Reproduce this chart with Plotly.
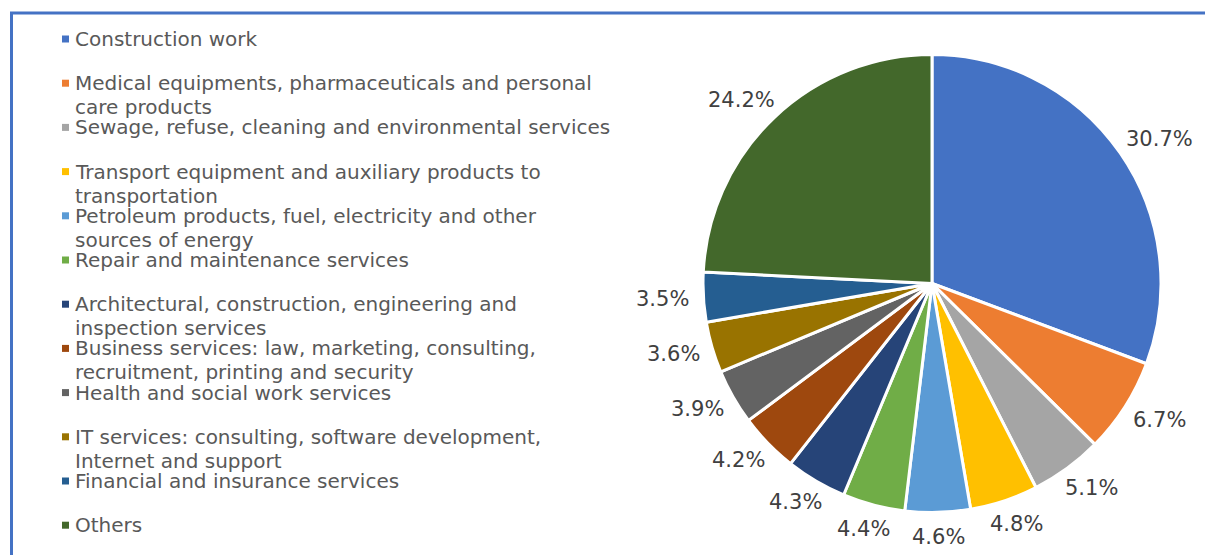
import math
import plotly.graph_objects as go

W, H = 1205, 555

# Categories (legend order = slice order, clockwise from 12 o'clock)
categories = [
    "Construction work",
    "Medical equipments, pharmaceuticals and personal<br>care products",
    "Sewage, refuse, cleaning and environmental services",
    "Transport equipment and auxiliary products to<br>transportation",
    "Petroleum products, fuel, electricity and other<br>sources of energy",
    "Repair and maintenance services",
    "Architectural, construction, engineering and<br>inspection services",
    "Business services: law, marketing, consulting,<br>recruitment, printing and security",
    "Health and social work services",
    "IT services: consulting, software development,<br>Internet and support",
    "Financial and insurance services",
    "Others",
]
shares = [30.7, 6.7, 5.1, 4.8, 4.6, 4.4, 4.3, 4.2, 3.9, 3.6, 3.5, 24.2]
colors = [
    "#4472C4", "#ED7D31", "#A5A5A5", "#FFC000", "#5B9BD5", "#70AD47",
    "#264478", "#9E480E", "#636363", "#997300", "#255E91", "#43682B",
]

FONT = "DejaVu Sans"
LABEL_SIZE = 21

# Pie geometry in pixels
CX, CY, R = 932.0, 283.5, 229.0
LABEL_GAP = 14.0


def px_x(x):
    return x / W


def px_y(y):
    return 1 - y / H


def text_width(s, size):
    # approximate advance widths of DejaVu Sans glyphs (em units)
    em = {".": 0.318, "%": 0.950}
    return sum(em.get(ch, 0.636) for ch in s) * size


fig = go.Figure()

fig.add_trace(go.Pie(
    labels=[c.replace("<br>", " ") for c in categories],
    values=shares,
    sort=False,
    direction="clockwise",
    rotation=0,
    marker=dict(colors=colors, line=dict(color="white", width=3)),
    textinfo="none",
    domain=dict(x=[px_x(CX - R), px_x(CX + R)], y=[px_y(CY + R), px_y(CY - R)]),
    showlegend=False,
    hoverinfo="label+value",
))

annotations = []
shapes = []

# Data labels just beyond the outer edge of each slice, at its mid-angle
total = sum(shares)
cum = 0.0
for v in shares:
    mid = (cum + v / 2) / total * 2 * math.pi
    cum += v
    ux, uy = math.sin(mid), -math.cos(mid)
    txt = f"{v:.1f}%"
    w, h = text_width(txt, LABEL_SIZE), LABEL_SIZE
    lx = CX + (R + LABEL_GAP) * ux + w / 2 * ux
    ly = CY + (R + LABEL_GAP) * uy + h / 2 * uy
    annotations.append(dict(
        x=px_x(lx), y=px_y(ly), xref="paper", yref="paper",
        xanchor="center", yanchor="middle", showarrow=False,
        text=txt, borderpad=0,
        font=dict(family=FONT, size=LABEL_SIZE, color="#404040"),
    ))

# Legend drawn as text rows with square swatches
row_top, row_step, line_step = 39.0, 44.2, 24.0
for i, (name, col) in enumerate(zip(categories, colors)):
    y0 = row_top + row_step * i
    shapes.append(dict(
        type="rect", xref="paper", yref="paper",
        x0=px_x(62), x1=px_x(69), y0=px_y(y0 - 3.5), y1=px_y(y0 + 3.5),
        fillcolor=col, line=dict(width=0),
    ))
    for j, line in enumerate(name.split("<br>")):
        annotations.append(dict(
            x=px_x(74), y=px_y(y0 + line_step * j),
            xref="paper", yref="paper", xanchor="left", yanchor="middle",
            text=line, showarrow=False, borderpad=0,
            font=dict(family=FONT, size=20, color="#595959"),
        ))

# Chart frame (top and left edges)
shapes.append(dict(type="line", xref="paper", yref="paper",
                   x0=px_x(10), x1=1.0, y0=px_y(13), y1=px_y(13),
                   line=dict(color="#4472C4", width=3)))
shapes.append(dict(type="line", xref="paper", yref="paper",
                   x0=px_x(11.5), x1=px_x(11.5), y0=px_y(12), y1=0.0,
                   line=dict(color="#4472C4", width=3)))

fig.update_layout(
    width=W, height=H,
    margin=dict(l=0, r=0, t=0, b=0),
    paper_bgcolor="white",
    plot_bgcolor="white",
    annotations=annotations,
    shapes=shapes,
    font=dict(family=FONT),
)

fig.write_html("out.html")
